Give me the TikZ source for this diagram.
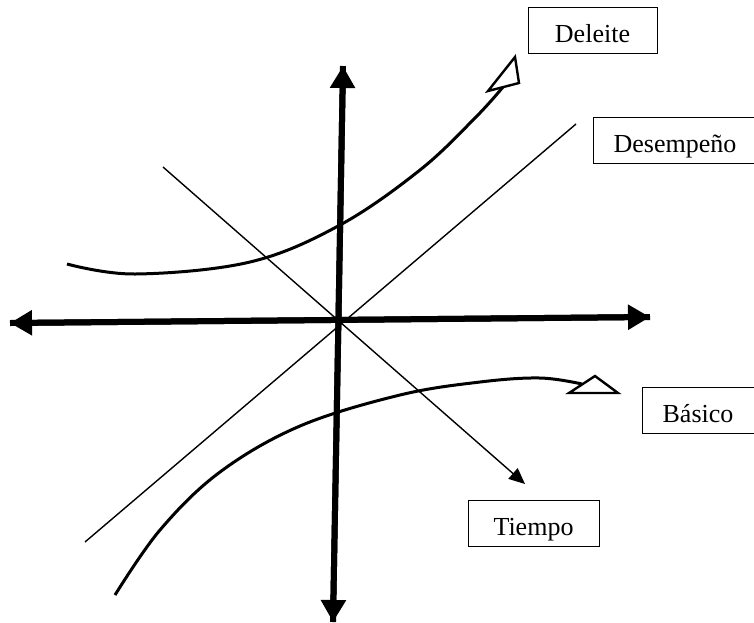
\documentclass[tikz,border=0pt]{standalone}
\usepackage{fontspec}
\setmainfont{Liberation Serif}
\usetikzlibrary{arrows.meta}

\begin{document}
\begin{tikzpicture}[
        x=0.5pt, y=-0.5pt,
        every node/.style={font=\fontsize{13}{15}\selectfont},
        box/.style={draw, thin, fill=white, minimum height=23pt, text height=12pt, text depth=0pt, inner sep=0pt},
        axis/.style={-{Triangle[length=11pt, width=12pt]}, line width=3pt},
        thinline/.style={line width=0.7pt},
        curve/.style={line width=1.5pt},
        tip/.style={draw, line width=1.2pt, fill=white, line join=miter}
    ]
        \useasboundingbox (0,0) rectangle (754,622);

        % boxes
        \node[box, minimum width=64.5pt] (deleite) at (592.5,30) {Deleite};
        \node[box, minimum width=82pt] (desempeno) at (675,140.5) {Desempeño};
        \node[box, minimum width=56pt] (basico) at (698,410) {Básico};
        \node[box, minimum width=65.5pt] (tiempo) at (533.5,523) {Tiempo};

        % end points
        \coordinate (xl) at (10,323);
        \coordinate (xr) at (650,317);
        \coordinate (yt) at (343,66);
        \coordinate (yb) at (333,622);
        \coordinate (a1) at (163,167);
        \coordinate (a2) at (525,484);
        \coordinate (b1) at (85,542);
        \coordinate (b2) at (576,124);

        % diagonals
        \draw[thinline, -{Triangle[length=8pt, width=7pt]}] (a1) -- (a2);
        \draw[thinline] (b1) -- (b2);

        % curves
        \draw[curve] plot[smooth, tension=0.6] coordinates {(67,264) (135,274) (250,262) (340,225) (420,170) (475,118) (503,87)};
        \draw[tip] (515,57) -- (519,83) -- (488,91) -- cycle;
        \draw[curve] plot[smooth, tension=0.6] coordinates {(115,595) (160,530) (220,472) (300,426) (400,395) (480,382) (540,378) (582,384)};
        \draw[tip] (595,376) -- (618,393) -- (569,393) -- cycle;

        % axes
        \draw[axis] (yb) -- (yt);
        \draw[axis] (yt) -- (yb);
        \draw[axis] (xl) -- (xr);
        \draw[axis] (xr) -- (xl);
    \end{tikzpicture}
\end{document}
